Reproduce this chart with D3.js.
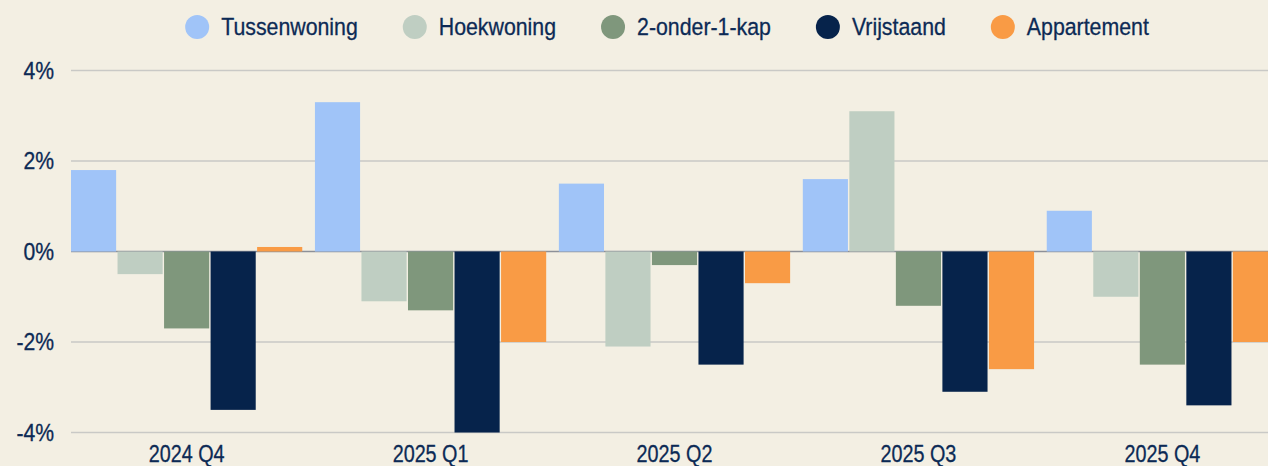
<!DOCTYPE html>
<html>
<head>
<meta charset="utf-8">
<script src="https://cdn.jsdelivr.net/npm/d3@7"></script>
<style>
  html, body { margin: 0; padding: 0; background: #f3efe3; }
  svg { display: block; }
</style>
</head>
<body>
<svg id="chart" width="1268" height="466"></svg>
<script>
// Data
const quarters = ['2024 Q4', '2025 Q1', '2025 Q2', '2025 Q3', '2025 Q4'];
const types = ['Tussenwoning', 'Hoekwoning', '2-onder-1-kap', 'Vrijstaand', 'Appartement'];
const tussenwoning = [1.8, 3.3, 1.5, 1.6, 0.9];
const hoekwoning = [-0.5, -1.1, -2.1, 3.1, -1.0];
const tweeOnderEenKap = [-1.7, -1.3, -0.3, -1.2, -2.5];
const vrijstaand = [-3.5, -4.0, -2.5, -3.1, -3.4];
const appartement = [0.1, -2.0, -0.7, -2.6, -2.0];
const yTicks = [-4, -2, 0, 2, 4];

const colors = ['#a0c4f8', '#bfcec2', '#7f977c', '#06234b', '#f99b45'];
const textColor = '#0c2a55';
const font = "'Liberation Sans', Arial, sans-serif";
const squeeze = 0.86; // condensed look

const series = [tussenwoning, hoekwoning, tweeOnderEenKap, vrijstaand, appartement];

const svg = d3.select('#chart');

const plotLeft = 71, plotRight = 1278, plotTop = 70.5, plotBottom = 432.5;

const x0 = d3.scaleBand()
    .domain(quarters)
    .range([plotLeft, plotRight])
    .paddingInner(0.052)
    .paddingOuter(0);

const x1 = d3.scaleBand()
    .domain(types)
    .range([0, x0.bandwidth()])
    .paddingInner(0.03);

const y = d3.scaleLinear()
    .domain([-4, 4])
    .range([plotBottom, plotTop]);

// Gridlines
svg.append('g')
    .selectAll('line')
    .data(yTicks)
    .enter()
    .append('line')
    .attr('x1', plotLeft)
    .attr('x2', 1268)
    .attr('y1', d => y(d))
    .attr('y2', d => y(d))
    .attr('stroke', d => d === 0 ? '#8c9098' : '#c9c9c6')
    .attr('stroke-width', 1.5);

// Y labels
svg.append('g')
    .selectAll('text')
    .data(yTicks)
    .enter()
    .append('text')
    .attr('transform', d => 'translate(54,' + y(d) + ') scale(0.92,1)')
    .attr('dy', '0.36em')
    .attr('text-anchor', 'end')
    .style('font-family', font)
    .style('font-size', '23px')
    .attr('fill', textColor)
    .attr('stroke', textColor)
    .attr('stroke-width', 0.3)
    .text(d => d + '%');

// Bars
const groups = svg.append('g')
    .selectAll('g')
    .data(quarters)
    .enter()
    .append('g')
    .attr('transform', d => 'translate(' + x0(d) + ',0)');

groups.selectAll('rect')
    .data((q, qi) => types.map((t, ti) => ({ type: t, value: series[ti][qi], color: colors[ti] })))
    .enter()
    .append('rect')
    .attr('x', d => x1(d.type))
    .attr('width', x1.bandwidth())
    .attr('y', d => y(Math.max(0, d.value)))
    .attr('height', d => Math.abs(y(d.value) - y(0)))
    .attr('fill', d => d.color);

// X labels
svg.append('g')
    .selectAll('text')
    .data(quarters)
    .enter()
    .append('text')
    .attr('transform', d => 'translate(' + (x0(d) + x0.bandwidth() / 2) + ',462) scale(' + squeeze + ',1)')
    .attr('text-anchor', 'middle')
    .style('font-family', font)
    .style('font-size', '23px')
    .attr('fill', textColor)
    .attr('stroke', textColor)
    .attr('stroke-width', 0.3)
    .text(d => d);

// Legend
const legend = svg.append('g');
const items = legend.selectAll('g')
    .data(types)
    .enter()
    .append('g');

items.append('circle')
    .attr('r', 12)
    .attr('cx', 12)
    .attr('cy', 27)
    .attr('fill', (d, i) => colors[i]);

items.append('text')
    .attr('transform', 'translate(36,35) scale(0.87,1)')
    .style('font-family', font)
    .style('font-size', '24.5px')
    .attr('fill', textColor)
    .attr('stroke', textColor)
    .attr('stroke-width', 0.3)
    .text(d => d);

const widths = [];
items.each(function() {
    widths.push(36 + this.querySelector('text').getComputedTextLength() * 0.87);
});
const total = d3.sum(widths) + 45 * (widths.length - 1);
let offset = 667 - total / 2;
items.attr('transform', (d, i) => {
    const t = 'translate(' + offset + ',0)';
    offset += widths[i] + 45;
    return t;
});
</script>
</body>
</html>
